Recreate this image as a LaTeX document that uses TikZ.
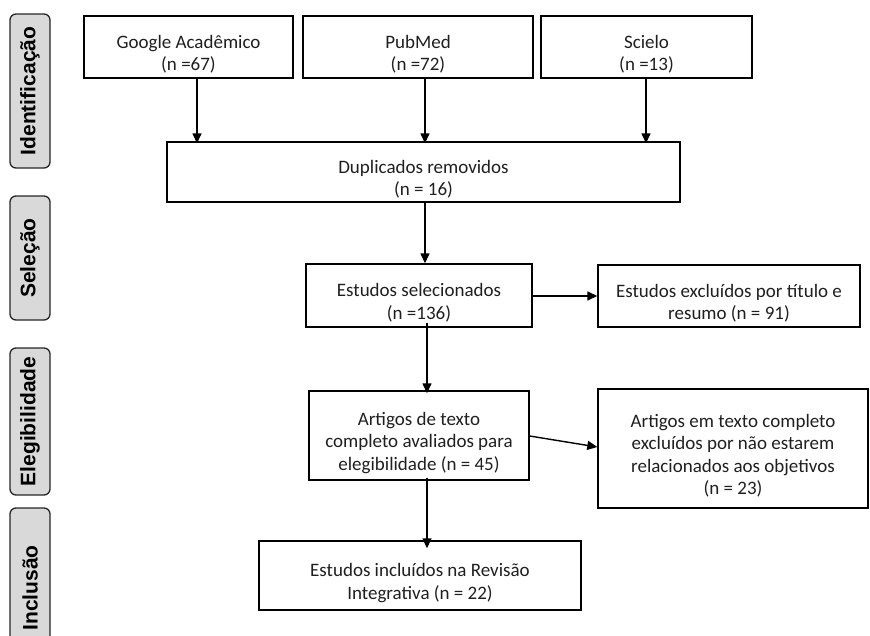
\documentclass[tikz,border=0pt]{standalone}
\usepackage{fontspec}
\setmainfont{Carlito}
\newfontfamily\labelfont{Liberation Sans}
\usetikzlibrary{arrows.meta}
\newcommand\tpstrut{\rule{0pt}{28pt}}
\begin{document}
\begin{tikzpicture}[x=1pt,y=-1pt,
  box/.style={draw=black,line width=1.4pt,rectangle,inner sep=0pt,align=center,
    font=\fontsize{19}{22.5}\selectfont,text=black!88},
  phase/.style={draw=black!85,line width=1.3pt,fill=black!15,rounded corners=6pt,
    inner sep=0pt,rotate=90,
    font=\labelfont\bfseries\fontsize{21}{24}\selectfont},
  arr/.style={line width=1.4pt,-{Triangle[length=10pt,width=9pt]}}]
\useasboundingbox (0,0) rectangle (870,635);
\clip (0,0) rectangle (870,635);
% phase labels
\node[phase,minimum height=40pt,minimum width=154pt] (pid) at (30,91) {Identificação};
\node[phase,minimum height=40pt,minimum width=124pt] (psel) at (30,258) {Seleção};
\node[phase,minimum height=40pt,minimum width=147pt] (pele) at (30,421.5) {Elegibilidade};
\node[phase,minimum height=40pt,minimum width=160pt] (pinc) at (30,588) {Inclusão};
% boxes
\node[box,minimum width=209pt,minimum height=62pt] (google) at (188.5,47) {\tpstrut Google Acadêmico\\(n =67)};
\node[box,minimum width=230pt,minimum height=62pt] (pubmed) at (418,47) {\tpstrut PubMed\\(n =72)};
\node[box,minimum width=211pt,minimum height=62pt] (scielo) at (646.5,47) {\tpstrut Scielo\\(n =13)};
\node[box,minimum width=513pt,minimum height=60pt] (dup) at (423.5,172) {\tpstrut Duplicados removidos\\(n = 16)};
\node[box,minimum width=226pt,minimum height=63pt] (sel) at (419,295.5) {\tpstrut Estudos selecionados\\(n =136)};
\node[box,minimum width=262pt,minimum height=62pt] (exc) at (729,296) {\tpstrut Estudos excluídos por título e\\resumo (n = 91)};
\node[box,minimum width=220pt,minimum height=89pt] (art) at (419,435.5) {\tpstrut Artigos de texto\\completo avaliados para\\elegibilidade (n = 45)};
\node[box,minimum width=270pt,minimum height=119pt] (artexc) at (733,448.5) {\tpstrut Artigos em texto completo\\excluídos por não estarem\\relacionados aos objetivos\\(n = 23)};
\node[box,minimum width=322pt,minimum height=69pt] (inc) at (420,575.5) {\tpstrut Estudos incluídos na Revisão\\Integrativa (n = 22)};
% connectors
\draw[arr] ([xshift=8.5pt]google.south) -- ([xshift=8.5pt,yshift=-2pt]google.south |- dup.north);
\draw[arr] ([xshift=7pt]pubmed.south) -- ([xshift=7pt,yshift=-2pt]pubmed.south |- dup.north);
\draw[arr] ([xshift=-0.5pt]scielo.south) -- ([xshift=-0.5pt,yshift=-2pt]scielo.south |- dup.north);
\draw[arr] ([xshift=6pt]sel.north |- dup.south) -- ([xshift=6pt]sel.north);
\draw[arr] (sel.east |- exc.west) -- (exc.west);
\draw[arr] ([xshift=8pt,yshift=5pt]sel.south) -- ([xshift=8pt,yshift=-3pt]art.north);
\draw[arr] ([yshift=-0.5pt]art.east) -- ([yshift=1.5pt]artexc.west);
\draw[arr] ([xshift=8pt,yshift=3pt]art.south) -- ([xshift=7pt,yshift=-8pt]inc.north);
\end{tikzpicture}
\end{document}
